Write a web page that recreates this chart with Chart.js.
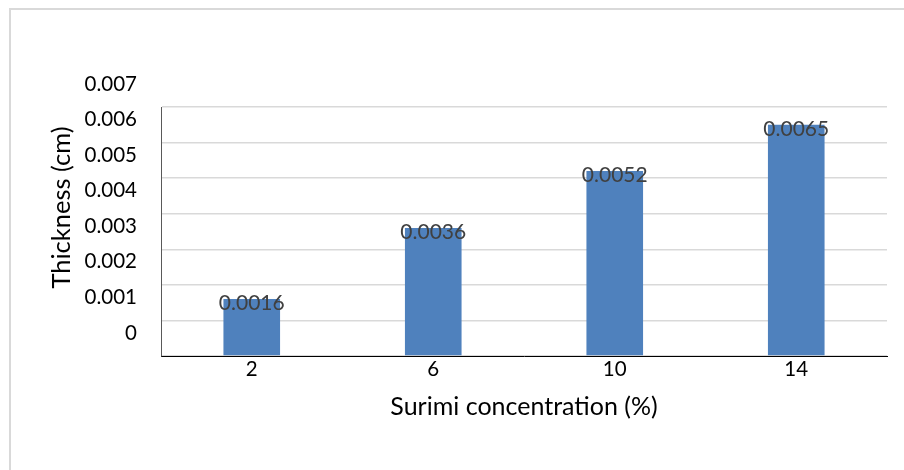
<!DOCTYPE html>
<html>
<head>
<meta charset="utf-8">
<script src="https://cdn.jsdelivr.net/npm/chart.js@4/dist/chart.umd.min.js"></script>
<style>
  html, body { margin: 0; padding: 0; background: #ffffff; }
  #wrap { width: 904px; height: 470px; }
</style>
</head>
<body>
<div id="wrap"><canvas id="chart" width="904" height="470"></canvas></div>
<script>
// Surimi concentration (%) vs film thickness (cm)
const categories = ['2', '6', '10', '14'];
const thickness = [0.0016, 0.0036, 0.0052, 0.0065];
const yTicks = [0, 0.001, 0.002, 0.003, 0.004, 0.005, 0.006, 0.007];
const yTitle = 'Thickness (cm)';
const xTitle = 'Surimi concentration (%)';

const FONT = 'Lato, "Liberation Sans", sans-serif';

// light grey frame along the top and left edges
const framePlugin = {
  id: 'frame',
  beforeDraw(chart) {
    const ctx = chart.ctx;
    ctx.save();
    ctx.strokeStyle = '#d9d9d9';
    ctx.lineWidth = 2;
    ctx.beginPath();
    ctx.moveTo(10, chart.height);
    ctx.lineTo(10, 9);
    ctx.lineTo(chart.width, 9);
    ctx.stroke();
    ctx.restore();
  }
};

// vertical axis title, centred a little above the plot's middle
const yTitlePlugin = {
  id: 'yTitle',
  afterDraw(chart) {
    const ctx = chart.ctx;
    const area = chart.chartArea;
    ctx.save();
    ctx.font = '25.5px ' + FONT;
    ctx.fillStyle = '#000000';
    ctx.textAlign = 'center';
    ctx.textBaseline = 'middle';
    ctx.translate(62, (area.top + area.bottom) / 2 - 24);
    ctx.rotate(-Math.PI / 2);
    ctx.fillText(yTitle, 0, 0);
    ctx.restore();
  }
};

// value labels sitting on the top edge of each bar
const valueLabels = {
  id: 'valueLabels',
  afterDatasetsDraw(chart) {
    const ctx = chart.ctx;
    const meta = chart.getDatasetMeta(0);
    ctx.save();
    ctx.font = '21px ' + FONT;
    ctx.fillStyle = '#404040';
    ctx.textAlign = 'center';
    ctx.textBaseline = 'middle';
    meta.data.forEach((bar, i) => {
      ctx.fillText(String(thickness[i]), bar.x, bar.y + 4);
    });
    ctx.restore();
  }
};

new Chart(document.getElementById('chart'), {
  type: 'bar',
  data: {
    labels: categories,
    datasets: [{
      data: thickness,
      backgroundColor: '#4f81bd',
      borderWidth: 0,
      categoryPercentage: 1,
      barPercentage: 0.312
    }]
  },
  options: {
    responsive: false,
    animation: false,
    events: [],
    layout: { padding: { left: 10, right: 17, top: 107, bottom: 0 } },
    plugins: {
      legend: { display: false },
      tooltip: { enabled: false }
    },
    scales: {
      x: {
        afterFit(scale) { scale.height = 114; },
        grid: { display: false, drawTicks: false },
        border: { display: true, color: '#000000', width: 1 },
        ticks: { color: '#000000', font: { family: FONT, size: 20.5 }, padding: 1 },
        title: {
          display: true,
          text: xTitle,
          color: '#000000',
          font: { family: FONT, size: 25 },
          padding: { top: 0, bottom: 48 }
        }
      },
      y: {
        min: 0,
        max: 0.007,
        afterFit(scale) { scale.width = 151; },
        afterBuildTicks(scale) { scale.ticks = yTicks.map(v => ({ value: v })); },
        grid: { color: '#d9d9d9', lineWidth: 1.5, drawTicks: false },
        border: { display: true, color: '#595959', width: 1 },
        ticks: {
          color: '#000000',
          font: { family: FONT, size: 20.5 },
          padding: 24,
          labelOffset: -23,
          callback: v => String(v)
        },
        title: { display: false }
      }
    }
  },
  plugins: [framePlugin, yTitlePlugin, valueLabels]
});
</script>
</body>
</html>
